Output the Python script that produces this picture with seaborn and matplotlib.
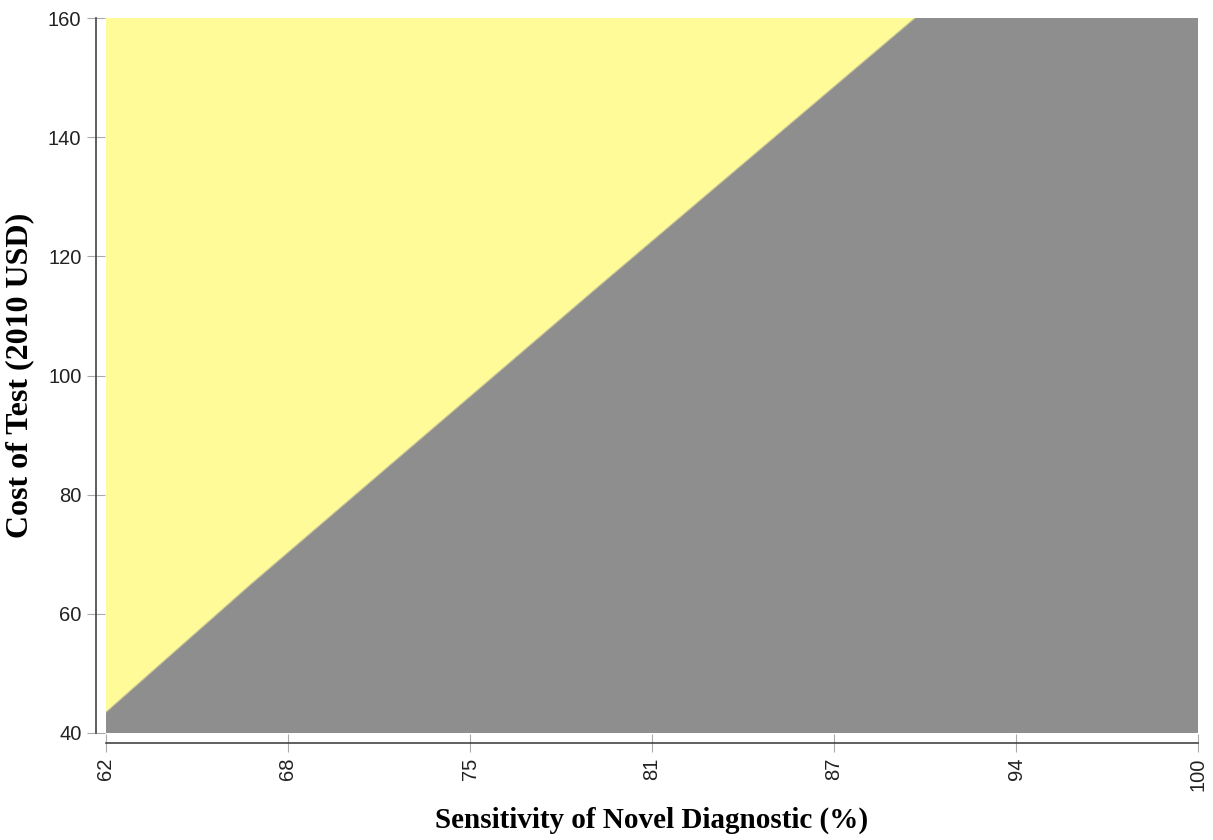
import matplotlib
matplotlib.use("Agg")
import matplotlib.pyplot as plt
import numpy as np
import pandas as pd
import seaborn as sns

# boundary between the two regions
sensitivity = [62.0, 67.0, 79.2, 90.15, 100.0]
cost_threshold = [43.5, 64.8, 115.2, 160.0, 200.3]

x_ticks = [62, 68.33, 74.67, 81, 87.33, 93.67, 100]
x_tick_labels = ["62", "68", "75", "81", "87", "94", "100"]
y_ticks = [40, 60, 80, 100, 120, 140, 160]

yellow = "#FFFB98"
gray = "#8E8E8E"

sns.set_style("ticks")
plt.rcParams['font.family'] = ['Liberation Sans', 'DejaVu Sans']

fig = plt.figure(figsize=(12.13, 8.4), dpi=100, facecolor="white")
ax = fig.add_axes([106 / 1213, 1 - 733 / 840, (1198 - 106) / 1213, (733 - 18) / 840])

df = pd.DataFrame({"sens": sensitivity, "cost": cost_threshold})
ax.fill_between(df["sens"], 40, df["cost"], color=gray, linewidth=0)
ax.fill_between(df["sens"], df["cost"], 220, color=yellow, linewidth=0)
sns.lineplot(data=df, x="sens", y="cost", ax=ax, color="#C8C49A", linewidth=0.8)

ax.set_xlim(62, 100)
ax.set_ylim(40, 160)
ax.set_xticks(x_ticks)
ax.set_xticklabels(x_tick_labels)
ax.set_yticks(y_ticks)

for side in ["top", "right"]:
    ax.spines[side].set_visible(False)
for side in ["left", "bottom"]:
    ax.spines[side].set_position(("outward", 7.2))
    ax.spines[side].set_color("#444444")
    ax.spines[side].set_linewidth(1.2)

ax.tick_params(axis="both", direction="inout", length=13, width=0.8,
               color="#AAAAAA", labelsize=14.5, labelcolor="#222222")
ax.tick_params(axis="y", pad=4)
ax.tick_params(axis="x", pad=4, labelrotation=90)

ax.set_xlabel("Sensitivity of Novel Diagnostic (%)", family="Liberation Serif",
              fontweight="bold", fontsize=21, color="black")
ax.set_ylabel("Cost of Test (2010 USD)", family="Liberation Serif",
              fontweight="bold", fontsize=23, color="black")
ax.xaxis.set_label_coords(0.5, -0.103)
ax.yaxis.set_label_coords(-0.066, 0.5)

fig.savefig("out.png", dpi=100, facecolor="white")
